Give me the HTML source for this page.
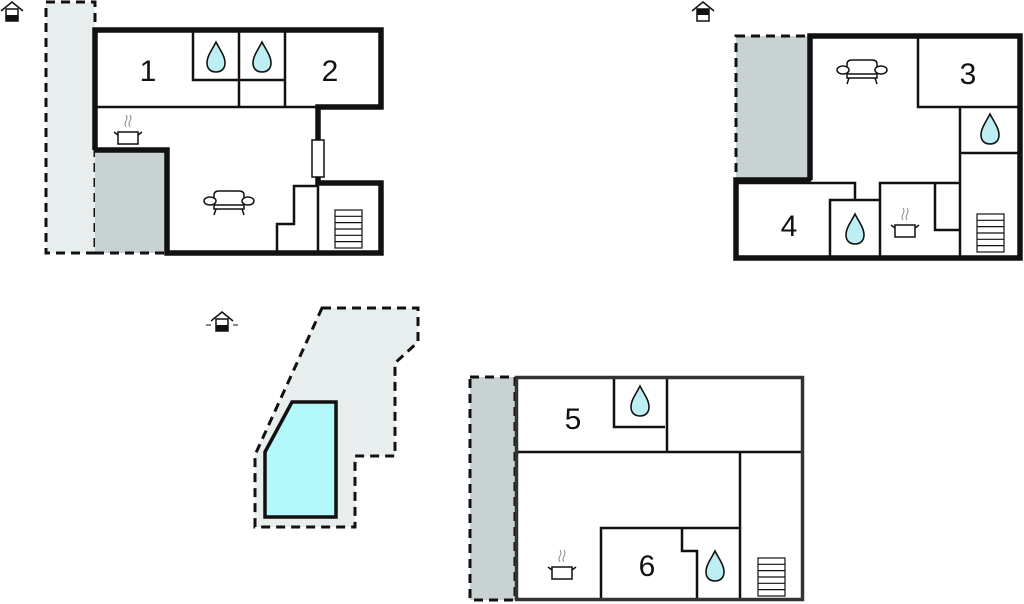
<!DOCTYPE html>
<html><head><meta charset="utf-8"><style>
html,body{margin:0;padding:0;background:#fff}
svg{display:block}
text{font-family:"Liberation Sans",sans-serif;font-size:30px;fill:#111;text-anchor:middle}
</style></head><body>
<svg width="1024" height="604" viewBox="0 0 1024 604" xmlns="http://www.w3.org/2000/svg">
<defs>
<g id="drop"><path d="M0,-16 C4,-8 9,-2 9,5 C9,11 5,14 0,14 C-5,14 -9,11 -9,5 C-9,-2 -4,-8 0,-16 Z" fill="#bdeef3" stroke="#111" stroke-width="1.6"/></g>
<g id="sofa" fill="#fff" stroke="#111" stroke-width="1.5"><path d="M-15,-8 Q-15,-12 -10,-12 L10,-12 Q15,-12 15,-8 L15,6 L-15,6 Z"/><ellipse cx="-19" cy="-2" rx="6" ry="4"/><ellipse cx="19" cy="-2" rx="6" ry="4"/><line x1="-15" y1="2" x2="15" y2="2"/><path d="M-13,6 L-15,12 M13,6 L15,12" /></g>
<g id="pot" fill="none" stroke="#111" stroke-width="1.5"><rect x="-10" y="-5" width="20" height="12" fill="#fff"/><path d="M-10,-2 L-14,-5 M10,-2 L14,-5"/><path d="M-2,-10 q-2,-3 0,-6 q2,-3 0,-6 M2,-10 q-2,-3 0,-6 q2,-3 0,-6" stroke="#888" stroke-width="1"/></g>
<g id="stair" fill="#fff" stroke="#111" stroke-width="1.2"><rect x="0" y="0" width="27" height="38"/><path d="M0,6.3H27M0,12.6H27M0,19H27M0,25.3H27M0,31.6H27"/></g>
<g id="house"><path d="M-11,-1 L0,-10 L11,-1" fill="none" stroke="#111" stroke-width="1.5"/><rect x="-6" y="-3" width="12" height="12" fill="#fff" stroke="#111" stroke-width="1.5"/></g>
</defs>

<!-- Plan 1 -->
<rect x="46" y="2" width="49" height="251" fill="#e8eeee" stroke="#111" stroke-width="3" stroke-dasharray="9,6"/>
<rect x="95" y="150" width="72" height="103" fill="#c8d2d2"/>
<path d="M95,253 H167" stroke="#111" stroke-width="3" stroke-dasharray="9,6"/>
<g fill="none" stroke="#111" stroke-width="2.5">
<path d="M95,107 H381 M193,30 V80 H285 M239,30 V107 M285,30 V107"/>
<path d="M277,253 V224 H294 V186 H318 M318,183 V253"/>
</g>
<path d="M95,150 V30 H381 V107 H318 V140 M318,177 V183 H381 V253 H167 V150 H95" fill="none" stroke="#111" stroke-width="5.5"/>
<rect x="312" y="140" width="12" height="37" fill="#fff" stroke="#111" stroke-width="1.5"/>
<use href="#drop" x="216" y="58"/><use href="#drop" x="262" y="58"/>
<text x="148" y="81">1</text><text x="330" y="81">2</text>
<use href="#pot" x="128" y="137"/><use href="#sofa" x="229" y="203"/>
<use href="#stair" x="335" y="210"/>
<g transform="translate(12,12)"><use href="#house"/><rect x="-6" y="3" width="12" height="6" fill="#111"/></g>

<!-- Plan 2 -->
<rect x="736" y="36" width="74" height="144" fill="#c8d2d2" stroke="#111" stroke-width="3" stroke-dasharray="9,6"/>
<g fill="none" stroke="#111" stroke-width="2.5">
<path d="M918,36 V107 H1020 M960,107 V258 M960,153 H1020"/>
<path d="M736,183 H855 V200 M830,258 V200 H880 M880,258 V183 H960 M935,183 V230 H960"/>
</g>
<path d="M810,180 V36 H1020 V258 H736 V180 H810" fill="none" stroke="#111" stroke-width="5.5"/>
<text x="968" y="84">3</text><text x="789" y="236">4</text>
<use href="#drop" x="990" y="130"/><use href="#drop" x="855" y="230"/>
<use href="#sofa" x="862" y="72"/><use href="#pot" x="905" y="230"/>
<use href="#stair" x="977" y="214"/>
<g transform="translate(703,12)"><use href="#house"/><rect x="-6" y="-3" width="12" height="6" fill="#111"/></g>

<!-- Plan 3 pool -->
<path d="M322,308 H418 V342 L395,363 V456 H355 V527 H255 V455 Z" fill="#e8eeee" stroke="#111" stroke-width="3" stroke-dasharray="9,6"/>
<path d="M292,402 H336 V517 H265 V452 Z" fill="#b3f8fb" stroke="#111" stroke-width="3.5"/>
<g transform="translate(222,322)"><use href="#house"/><rect x="-6" y="3" width="12" height="6" fill="#111"/><path d="M-16,3 H-11 M11,3 H16" stroke="#111" stroke-width="1"/></g>

<!-- Plan 4 -->
<rect x="470" y="377" width="45" height="223" fill="#c8d2d2" stroke="#111" stroke-width="3" stroke-dasharray="9,6"/>
<g fill="none" stroke="#111" stroke-width="2.5">
<path d="M516,452 H802 M667,377 V452 M614,377 V427 H665 M740,452 V600 M601,600 V528 H740 M682,528 V551 H697 V600"/>
</g>
<rect x="516.5" y="377.5" width="286" height="222" fill="none" stroke="#333" stroke-width="3.5"/>
<text x="573" y="429">5</text><text x="647" y="576">6</text>
<use href="#drop" x="640" y="402"/><use href="#drop" x="715" y="567"/>
<use href="#pot" x="562" y="572"/>
<use href="#stair" x="758" y="558"/>
</svg>
</body></html>
